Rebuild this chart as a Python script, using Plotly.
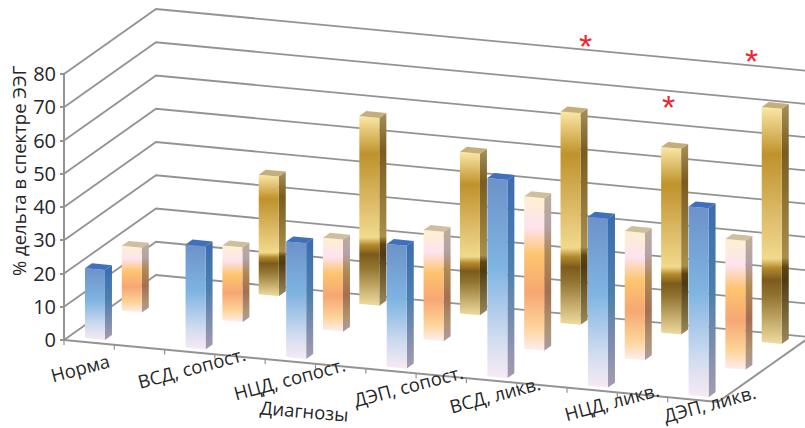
import plotly.graph_objects as go

# Mean share of the delta band per diagnosis, one list per group of bars
categories = ["Норма", "ВСД, сопост.", "НЦД, сопост.", "ДЭП, сопост.",
              "ВСД, ликв.", "НЦД, ликв.", "ДЭП, ликв."]
series_front = [21.0, 31.0, 34.8, 36.9, 59.6, 50.8, 56.8]
series_middle = [19.5, 22.5, 27.7, 32.9, 45.9, 38.3, 38.8]
series_back = [None, 36.0, 56.5, 48.6, 63.6, 55.8, 70.7]
value_ticks = [0, 10, 20, 30, 40, 50, 60, 70, 80]

W, H = 805, 428
ORIGIN_X, ORIGIN_Y = 64.0, 340.0
STEP_X, STEP_Y = 100.6, 9.54      # one category along the front axis
DEPTH_X, DEPTH_Y = 92.0, -65.0    # full floor depth
UNIT_Y = 3.325                    # pixels per percentage point
AXIS_END = 6.5                    # floor length, in categories
BAR_W, BAR_D = 0.199, 0.076
GRID = "#939393"
TEXT = "#262626"


def project(c, d, v):
    """Oblique projection of (category, depth, value) to plot coordinates."""
    x = ORIGIN_X + c * STEP_X + d * DEPTH_X
    y = c * STEP_Y + d * DEPTH_Y
    return x, v - y / UNIT_Y


def val_from_px(py):
    return (ORIGIN_Y - py) / UNIT_Y


def scale(stops):
    """Stops are listed from the bar top downward; the gradient runs bottom-up."""
    return sorted([[1 - t, col] for t, col in stops], key=lambda s: s[0])


STYLES = {
    "front": dict(
        face=scale([(0, "#6d92c9"), (.45, "#7fb4e2"), (.8, "#d0dcf0"), (1, "#f7eaf4")]),
        side=scale([(0, "#3a6cb0"), (.45, "#4d7fae"), (1, "#a69bb0")]),
        top="#3f70bd", offset=(.159, .054)),
    "middle": dict(
        face=scale([(0, "#fdf1d0"), (.2, "#fde3ef"), (.38, "#fdc56e"), (.62, "#f6a773"),
                    (.85, "#fdd49a"), (1, "#fdeef0")]),
        side=scale([(0, "#bdae96"), (.2, "#b5a2a8"), (.38, "#b08a50"), (.62, "#a56f50"),
                    (.85, "#b09472"), (1, "#ab9aa5")]),
        top="#cfbf9f", offset=(.143, .4716)),
    "back": dict(
        face=scale([(0, "#fbe8a6"), (.2, "#bf922b"), (.5, "#e2c272"), (.64, "#f1da8c"),
                    (.68, "#b48a2c"), (.73, "#7d5a1c"), (.8, "#927530"), (1, "#f0dca0")]),
        side=scale([(0, "#a6905a"), (.2, "#7a5c20"), (.64, "#a88f4a"), (.68, "#5f4513"),
                    (.73, "#4f3b12"), (1, "#9a8a5a")]),
        top="#c3ae7c", offset=(.14, .87)),
}

fig = go.Figure()


def polyline(points, width=1.8, color=GRID):
    xs = [p[0] if p else None for p in points]
    ys = [p[1] if p else None for p in points]
    fig.add_trace(go.Scatter(x=xs, y=ys, mode="lines", hoverinfo="skip", showlegend=False,
                             line=dict(color=color, width=width)))


# Left wall and back wall gridlines
for v in value_ticks:
    polyline([project(0, 0, v), project(0, 1, v), project(AXIS_END, 1, v)])

# Value axis line, floor edges and the category ticks under the front edge
polyline([project(0, 0, 0), project(0, 0, value_ticks[-1])], 2)
polyline([project(0, 0, 0), project(AXIS_END, 0, 0), project(AXIS_END, 1, 0)], 2)
tick_pts = []
for k in range(int(AXIS_END * 2) + 1):
    x, y = project(k / 2, 0, 0)
    tick_pts += [(x, y), (x, y - 5 / UNIT_Y), None]
polyline(tick_pts, 1.2)


def polygon(points, **fill):
    xs = [p[0] for p in points] + [points[0][0]]
    ys = [p[1] for p in points] + [points[0][1]]
    fig.add_trace(go.Scatter(x=xs, y=ys, mode="lines", fill="toself", hoverinfo="skip",
                             showlegend=False, line=dict(width=0), **fill))


def bar(i, value, style):
    c0 = i + style["offset"][0]
    d0 = style["offset"][1]
    c1, d1 = c0 + BAR_W, d0 + BAR_D
    front = [project(c0, d0, 0), project(c1, d0, 0), project(c1, d0, value), project(c0, d0, value)]
    side = [project(c1, d0, 0), project(c1, d1, 0), project(c1, d1, value), project(c1, d0, value)]
    top = [project(c0, d0, value), project(c1, d0, value), project(c1, d1, value), project(c0, d1, value)]
    polygon(side, fillgradient=dict(type="vertical", colorscale=style["side"]))
    polygon(front, fillgradient=dict(type="vertical", colorscale=style["face"]))
    polygon(top, fillcolor=style["top"])


# Painter's order: farthest row first
for name, values in (("back", series_back), ("middle", series_middle), ("front", series_front)):
    for i, value in enumerate(values):
        if value is not None:
            bar(i, value, STYLES[name])

label_centres = [(80, 367), (191, 367), (289, 378), (408, 385), (494, 394), (611, 401), (709, 403)]
annotations = []


def label(text, px, py, size, angle=0, color=TEXT, family="Open Sans"):
    annotations.append(dict(x=px, y=val_from_px(py), xref="x", yref="y", text=text, showarrow=False,
                            textangle=angle, xanchor="center", yanchor="middle",
                            font=dict(family=family, size=size, color=color)))


for name, (px, py) in zip(categories, label_centres):
    label(name, px, py, 18.5, -15)
label("Диагнозы", 304, 410, 18.5, 5)
label("% дельта в спектре ЭЭГ", 18, 171, 18.5, -90)

# Significance marks above the back row
for px, py in [(585, 46), (751, 61), (668, 107)]:
    label("*", px, py, 34, 0, "#f5222d", "Liberation Sans")

fig.update_layout(
    width=W, height=H, margin=dict(l=0, r=0, t=0, b=0),
    plot_bgcolor="white", paper_bgcolor="white", showlegend=False,
    annotations=annotations,
    xaxis=dict(range=[0, W], visible=False, fixedrange=True),
    yaxis=dict(range=[val_from_px(H), val_from_px(0)], anchor="free", position=ORIGIN_X / W,
               side="left", tickmode="array", tickvals=value_ticks, ticks="outside", ticklen=4,
               tickcolor=GRID, tickwidth=1.5, showgrid=False, zeroline=False, showline=False,
               tickfont=dict(family="Open Sans", size=20, color=TEXT), fixedrange=True),
)
fig.write_html("out.html", config=dict(displayModeBar=False))
